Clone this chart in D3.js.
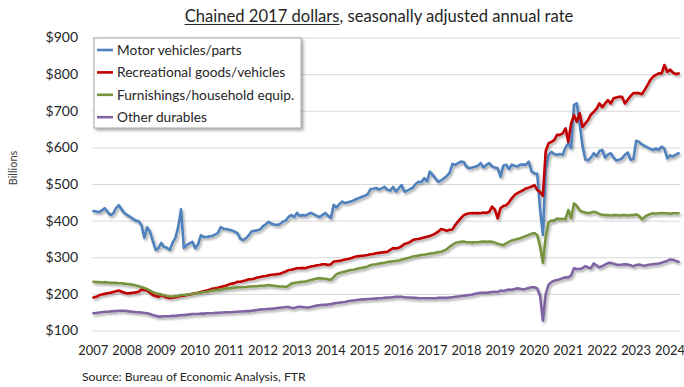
<!DOCTYPE html>
<html>
<head>
<meta charset="utf-8">
<script src="https://cdn.jsdelivr.net/npm/d3@7"></script>
<style>
  body { margin: 0; background: #fff; }
  svg { display: block; }
  text { font-family: Lato, "Open Sans", sans-serif; }
</style>
</head>
<body>
<svg id="chart" width="684" height="387"></svg>
<script>
// Real personal consumption, durable goods, monthly from Jan 2007 (billions, chained 2017 $, SAAR)
const startYear = 2007;
const yearLabels = ["2007","2008","2009","2010","2011","2012","2013","2014","2015",
  "2016","2017","2018","2019","2020","2021","2022","2023","2024"];
const yTicks = [100, 200, 300, 400, 500, 600, 700, 800, 900];
const seriesNames = ["Motor vehicles/parts", "Recreational goods/vehicles",
  "Furnishings/household equip.", "Other durables"];

const motorVehicles = [
  426,425,423,428,434,424,415,420,434,442,430,420,
  415,410,405,400,398,388,353,382,370,345,320,325,
  339,328,326,320,339,353,383,431,325,333,338,342,
  325,335,360,356,355,357,358,362,366,382,378,377,
  375,373,370,365,350,347,352,360,371,372,374,376,
  385,390,397,392,389,388,391,397,400,410,415,410,
  421,413,415,414,418,421,417,413,410,415,421,413,
  407,443,436,445,452,448,450,452,455,459,462,465,
  468,472,486,487,489,485,488,492,484,482,492,479,
  488,497,479,482,486,490,500,506,505,516,507,534,
  525,515,506,510,515,522,530,555,552,557,561,560,
  547,543,545,547,550,557,545,552,557,548,545,543,
  520,550,553,541,553,550,548,553,553,553,561,534,
  529,528,430,361,540,579,588,582,580,582,580,600,
  611,598,716,720,665,605,567,565,572,584,576,590,
  593,572,580,584,572,564,566,570,580,586,566,568,
  618,615,608,604,600,596,593,597,593,602,596,570,
  578,575,580,584
];

const recreational = [
  190,192,196,198,200,202,203,205,207,209,206,203,
  201,202,203,204,206,212,211,209,203,197,194,192,
  197,193,190,189,190,191,193,194,195,197,198,200,
  202,203,205,207,209,211,214,215,217,219,221,223,
  226,228,230,233,233,235,237,240,240,242,245,246,
  248,249,251,252,253,254,255,258,261,265,266,268,
  270,270,271,270,273,275,276,278,279,281,281,279,
  281,288,289,290,292,294,295,297,300,302,303,304,
  305,306,308,309,311,312,313,314,315,320,325,324,
  326,330,336,338,342,347,349,350,352,354,356,358,
  361,365,370,377,375,372,375,376,388,398,407,415,
  418,420,421,420,421,420,422,421,424,438,430,406,
  434,440,442,450,461,470,475,479,483,488,490,493,
  497,484,478,468,590,611,615,620,634,634,638,652,
  615,666,688,670,693,656,665,675,690,697,706,720,
  710,720,729,720,734,736,738,738,720,730,740,748,
  748,748,745,757,770,784,793,798,802,802,825,806,
  812,804,800,802
];

const furnishings = [
  233,232,232,231,232,231,230,230,230,229,229,228,
  227,226,225,223,221,219,216,213,209,205,202,200,
  198,196,194,193,193,194,195,197,197,198,199,200,
  201,202,203,205,206,207,209,210,211,212,213,215,
  215,216,217,218,218,218,219,220,220,221,221,222,
  222,223,224,223,222,221,220,220,219,222,228,230,
  231,232,233,234,236,238,240,242,243,242,241,240,
  238,246,254,257,259,261,263,265,266,268,270,271,
  273,275,278,280,281,283,284,285,287,288,289,290,
  291,293,295,297,299,302,303,305,306,307,308,310,
  311,312,314,315,318,322,329,334,339,341,342,343,
  341,341,340,341,341,342,343,342,343,342,340,337,
  335,333,338,342,346,348,350,352,355,358,361,364,
  366,360,330,285,355,395,400,400,406,404,405,404,
  429,406,447,440,428,424,422,420,422,424,422,418,
  416,415,415,414,415,415,414,415,415,414,415,415,
  417,413,404,410,415,418,420,419,420,421,420,420,
  419,420,420,420
];

const otherDurables = [
  147,148,149,150,151,151,152,153,153,154,154,154,
  153,152,151,150,150,149,148,147,145,142,140,138,
  138,139,139,139,140,140,141,142,142,143,144,145,
  145,145,146,146,147,147,147,148,148,149,149,150,
  150,150,151,151,152,152,153,153,154,155,156,157,
  158,158,159,159,160,161,162,163,164,164,162,161,
  164,165,164,163,163,164,166,168,169,170,170,171,
  172,174,175,176,177,178,180,181,182,183,184,185,
  185,186,186,187,187,188,188,189,190,190,191,192,
  192,192,191,190,190,189,189,188,188,188,188,188,
  188,188,189,189,189,189,190,191,192,193,194,195,
  196,197,198,200,202,203,203,203,204,205,206,205,
  209,208,210,212,211,213,215,214,212,214,216,218,
  218,215,195,127,200,225,232,236,238,240,243,245,
  245,250,270,268,268,270,276,272,270,283,278,272,
  276,280,284,285,282,280,279,280,281,280,278,275,
  279,280,278,277,279,280,281,282,283,285,288,290,
  294,293,290,288
];

const seriesValues = [motorVehicles, recreational, furnishings, otherDurables];
const seriesColors = ["#4F81BD", "#C00000", "#77933C", "#8064A2"];

const svg = d3.select("#chart");
const plot = { left: 92, right: 680, top: 37.5, bottom: 330.5 };
const nMonths = motorVehicles.length;

const x = d3.scaleLinear().domain([-0.5, nMonths - 0.5]).range([plot.left, plot.right]);
const y = d3.scaleLinear().domain([100, 900]).range([plot.bottom, plot.top]);

// soft shadows under the lines and the legend box
const defs = svg.append("defs");
defs.append("filter").attr("id", "lineShadow")
  .attr("x", "-5%").attr("y", "-5%").attr("width", "110%").attr("height", "115%")
  .append("feDropShadow")
  .attr("dx", 1.5).attr("dy", 2).attr("stdDeviation", 1.1)
  .attr("flood-color", "#000").attr("flood-opacity", 0.32);
defs.append("filter").attr("id", "boxShadow")
  .attr("x", "-10%").attr("y", "-10%").attr("width", "125%").attr("height", "130%")
  .append("feDropShadow")
  .attr("dx", 2).attr("dy", 2).attr("stdDeviation", 1.5)
  .attr("flood-color", "#000").attr("flood-opacity", 0.35);

// y axis with gridlines
const yAxis = svg.append("g")
  .attr("transform", `translate(${plot.left},0)`)
  .call(d3.axisLeft(y).tickValues(yTicks).tickFormat(d => "$" + d)
    .tickSize(-(plot.right - plot.left)).tickPadding(14));
yAxis.select(".domain").remove();
yAxis.selectAll(".tick line").attr("stroke", "#d9d9d9").attr("stroke-width", 1);
yAxis.selectAll(".tick text").attr("font-size", 14).attr("fill", "#262626")
  .attr("font-family", "Lato, sans-serif");

// x axis: one label per January
const januaries = d3.range(0, nMonths, 12);
const xAxis = svg.append("g")
  .attr("transform", `translate(0,${plot.bottom})`)
  .call(d3.axisBottom(x).tickValues(januaries)
    .tickFormat(i => yearLabels[i / 12]).tickSize(0).tickPadding(15));
xAxis.select(".domain").remove();
xAxis.selectAll(".tick text").attr("font-size", 12.9).attr("fill", "#262626")
  .attr("dx", "-0.6").attr("font-family", "Lato, sans-serif");

// series lines
const line = d3.line().x((d, i) => x(i)).y(d => y(d));
const lines = svg.append("g").attr("filter", "url(#lineShadow)");
seriesValues.forEach((vals, k) => {
  lines.append("path")
    .datum(vals)
    .attr("d", line)
    .attr("fill", "none")
    .attr("stroke", seriesColors[k])
    .attr("stroke-width", 2.6)
    .attr("stroke-linejoin", "round")
    .attr("stroke-linecap", "round");
});

// legend
const legend = svg.append("g");
legend.append("rect")
  .attr("x", 94).attr("y", 38).attr("width", 207).attr("height", 90)
  .attr("fill", "#fff").attr("stroke", "#a6a6a6").attr("stroke-width", 1)
  .attr("filter", "url(#boxShadow)");
seriesNames.forEach((name, k) => {
  const cy = 50 + k * 22.4;
  legend.append("line")
    .attr("x1", 97).attr("x2", 113).attr("y1", cy).attr("y2", cy)
    .attr("stroke", seriesColors[k]).attr("stroke-width", 2.6);
  legend.append("text")
    .attr("x", 117).attr("y", cy).attr("dy", "0.35em")
    .attr("font-size", 13.7).attr("fill", "#262626")
    .text(name);
});

// title with underlined units
const title = svg.append("text")
  .attr("x", 379).attr("y", 22).attr("text-anchor", "middle")
  .attr("font-size", 16.6).attr("fill", "#262626");
title.append("tspan").text("Chained 2017 dollars");
title.append("tspan").text(", seasonally adjusted annual rate");
const tNode = title.node();
const tBox = tNode.getBBox();
const uLen = tNode.getSubStringLength(0, "Chained 2017 dollars".length);
svg.append("line")
  .attr("x1", tBox.x).attr("x2", tBox.x + uLen)
  .attr("y1", 24.5).attr("y2", 24.5)
  .attr("stroke", "#262626").attr("stroke-width", 1);

// y axis title
svg.append("text")
  .attr("transform", "translate(13.5,168) rotate(-90)")
  .attr("text-anchor", "middle").attr("dy", "0.35em")
  .attr("font-size", 11).attr("fill", "#404040")
  .text("Billions");

// source note
svg.append("text")
  .attr("x", 82).attr("y", 377).attr("dy", "0.35em")
  .attr("font-size", 12.2).attr("fill", "#262626")
  .text("Source: Bureau of Economic Analysis, FTR");
</script>
</body>
</html>
